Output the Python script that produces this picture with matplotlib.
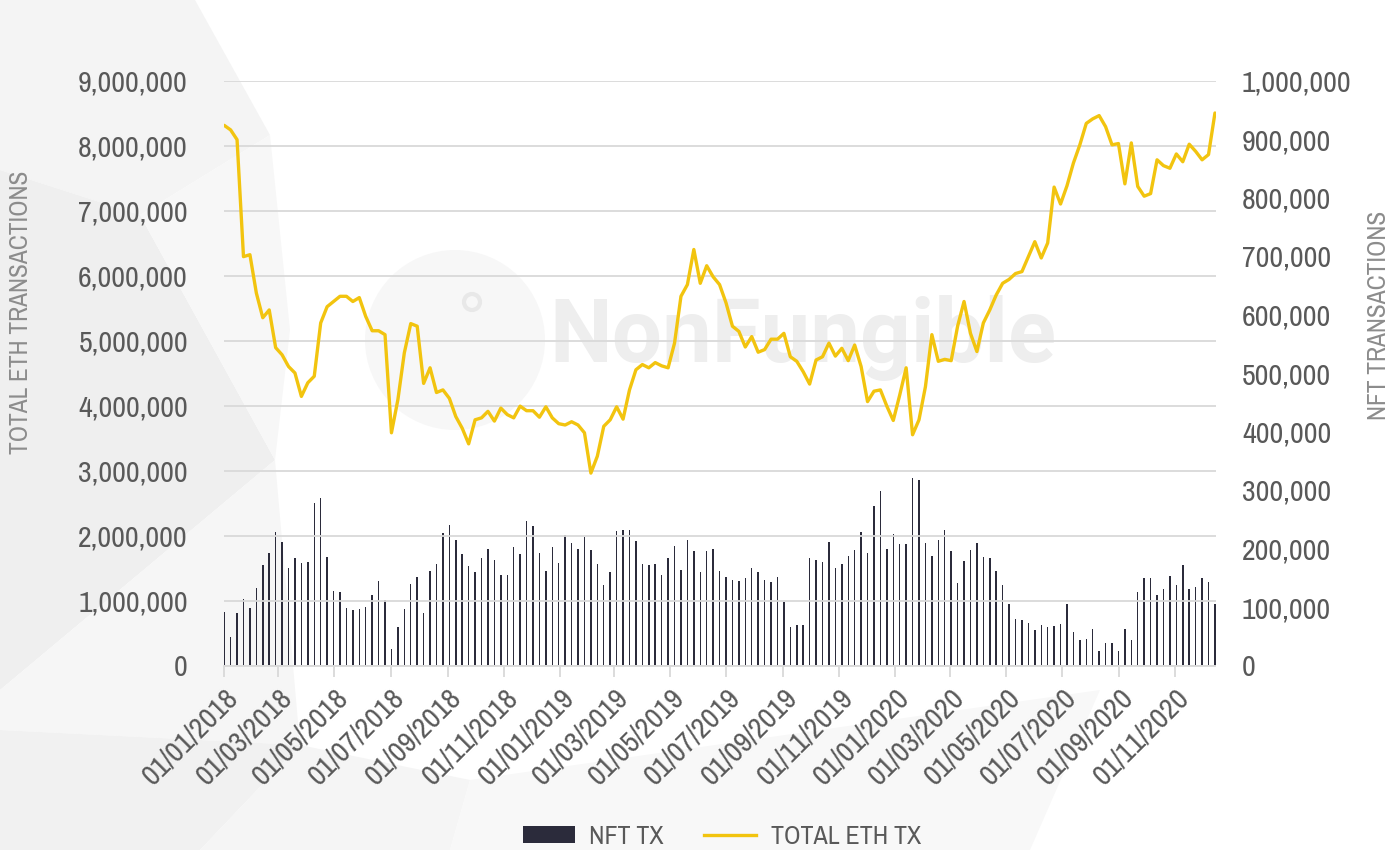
import numpy as np
import pandas as pd
import matplotlib
matplotlib.use("Agg")
import matplotlib.pyplot as plt
import matplotlib.dates as mdates
from matplotlib import font_manager as fm
from matplotlib.patches import Polygon, Patch, Ellipse
from matplotlib.lines import Line2D
from matplotlib.ticker import FuncFormatter

# ---------------- data ----------------
first_week = "2018-01-01"
n_weeks = 155

# NFT transactions per week (thousands)
nft_tx_k = [
    92, 48, 89, 113, 99, 132, 172, 192, 228, 211, 167, 183, 176, 177, 278, 287,
    186, 128, 126, 98, 95, 96, 100, 120, 145, 112, 28, 66, 97, 140, 151, 90,
    162, 174, 227, 241, 214, 190, 170, 160, 183, 199, 181, 155, 155, 203, 190, 247,
    239, 193, 161, 202, 176, 223, 210, 200, 219, 197, 174, 137, 160, 230, 232, 232,
    213, 174, 172, 174, 155, 183, 205, 163, 215, 196, 159, 196, 199, 162, 152, 147,
    144, 149, 167, 159, 147, 143, 151, 108, 65, 70, 70, 183, 181, 177, 211, 166,
    174, 188, 198, 229, 192, 273, 298, 199, 225, 208, 208, 320, 317, 209, 188, 215,
    231, 196, 141, 179, 198, 209, 185, 184, 162, 138, 105, 80, 78, 72, 60, 69,
    66, 67, 71, 105, 57, 43, 46, 63, 25, 38, 39, 24, 62, 43, 125, 150,
    149, 120, 130, 153, 138, 172, 130, 134, 149, 143, 105,
]

# Total ETH transactions per week (millions)
eth_tx_m = [
    8.31, 8.24, 8.09, 6.29, 6.32, 5.73, 5.35, 5.47, 4.89, 4.78, 4.60, 4.50, 4.14, 4.35, 4.45, 5.27,
    5.52, 5.60, 5.68, 5.68, 5.60, 5.66, 5.37, 5.15, 5.15, 5.09, 3.58, 4.09, 4.81, 5.26, 5.22, 4.34,
    4.58, 4.20, 4.24, 4.11, 3.83, 3.65, 3.41, 3.78, 3.81, 3.91, 3.76, 3.96, 3.86, 3.81, 3.99, 3.92,
    3.92, 3.82, 3.98, 3.81, 3.72, 3.70, 3.75, 3.70, 3.58, 2.96, 3.22, 3.68, 3.78, 3.98, 3.79, 4.24,
    4.55, 4.63, 4.58, 4.66, 4.61, 4.58, 4.96, 5.68, 5.86, 6.40, 5.88, 6.15, 5.98, 5.86, 5.58, 5.22,
    5.14, 4.90, 5.06, 4.82, 4.86, 5.02, 5.02, 5.11, 4.75, 4.68, 4.52, 4.33, 4.70, 4.75, 4.96, 4.76,
    4.88, 4.69, 4.93, 4.60, 4.06, 4.22, 4.24, 3.99, 3.77, 4.16, 4.58, 3.55, 3.78, 4.29, 5.09, 4.68,
    4.71, 4.69, 5.22, 5.60, 5.11, 4.83, 5.27, 5.47, 5.70, 5.88, 5.94, 6.03, 6.06, 6.29, 6.52, 6.27,
    6.50, 7.36, 7.10, 7.38, 7.73, 8.01, 8.34, 8.41, 8.46, 8.29, 8.01, 8.03, 7.41, 8.04, 7.37, 7.22,
    7.26, 7.78, 7.69, 7.65, 7.87, 7.75, 8.02, 7.91, 7.78, 7.86, 8.50,
]

left_ticks = [0, 1e6, 2e6, 3e6, 4e6, 5e6, 6e6, 7e6, 8e6, 9e6]
right_ticks = [0, 1e5, 2e5, 3e5, 4e5, 5e5, 6e5, 7e5, 8e5, 9e5, 1e6]
legend_labels = ["NFT TX", "TOTAL ETH TX"]
left_title = "TOTAL ETH TRANSACTIONS"
right_title = "NFT TRANSACTIONS"
watermark = "NonFungible"

# ---------------- fonts ----------------
installed = sorted({f.name for f in fm.fontManager.ttflist})
narrow_names = [n for n in installed if ("Narrow" in n or "Condensed" in n)]
if narrow_names:
    NARROW = [narrow_names[0], "DejaVu Sans"]
    TICK_FS, TITLE_FS, LEG_FS = 21.5, 18.3, 18.7
else:
    NARROW = ["Liberation Sans", "DejaVu Sans"]
    TICK_FS, TITLE_FS, LEG_FS = 18.3, 15.0, 15.3

BAR_COLOR = "#2b2b3b"
LINE_COLOR = "#F2C40F"
TICK_COLOR = "#595959"
TITLE_COLOR = "#8c8c8c"
GRID_COLOR = "#d9d9d9"

W, H = 1399, 850
fig = plt.figure(figsize=(W / 100, H / 100), dpi=100)
fig.patch.set_facecolor("white")

def px(x, y):
    return (x / W, 1 - y / H)

# background low-poly shapes
polys = [
    ([(0, 0), (195, 0), (270, 135), (140, 215), (0, 170)], "#f4f4f4"),
    ([(0, 170), (140, 215), (275, 460), (0, 690)], "#efefef"),
    ([(140, 215), (270, 135), (290, 330), (275, 460)], "#f7f7f7"),
    ([(0, 690), (275, 460), (300, 745), (0, 730)], "#f6f6f6"),
    ([(0, 730), (300, 745), (200, 850), (0, 850)], "#f1f1f1"),
    ([(300, 745), (470, 780), (450, 850), (200, 850)], "#f5f5f5"),
    ([(470, 780), (1100, 690), (1030, 850), (450, 850)], "#f8f8f8"),
]
for pts, col in polys:
    fig.patches.append(Polygon([px(*p) for p in pts], closed=True, transform=fig.transFigure,
                               facecolor=col, edgecolor="none", zorder=-5))

# watermark logo + text
fig.patches.append(Ellipse(px(455, 340), 180 / W, 180 / H, transform=fig.transFigure,
                           facecolor="#f7f7f7", edgecolor="none", zorder=-4))
fig.patches.append(Ellipse(px(472, 302), 16 / W, 16 / H, transform=fig.transFigure,
                           facecolor="none", edgecolor="#e8e8e8", lw=3, zorder=-4))
fig.text(*px(803, 338), watermark, fontsize=64, fontweight="bold", color="#eeeeee",
         ha="center", va="center", family=["Roboto", "DejaVu Sans"], zorder=-3)

# axes
left, right, top, bottom = 224, 1215.5, 80.5, 665.5
ax2 = fig.add_axes([left / W, 1 - bottom / H, (right - left) / W, (bottom - top) / H])
ax = ax2.twinx()
ax.yaxis.set_ticks_position("left")
ax.yaxis.set_label_position("left")
ax2.yaxis.set_ticks_position("right")
ax2.yaxis.set_label_position("right")

dates = pd.date_range(first_week, periods=n_weeks, freq="7D")
nft = np.array(nft_tx_k) * 1000
eth = np.array(eth_tx_m) * 1e6

ax2.bar(dates, nft, width=1.6, color=BAR_COLOR, linewidth=0, zorder=2)
ax.plot(dates, eth, color=LINE_COLOR, lw=2.4, solid_joinstyle="round", solid_capstyle="round",
        zorder=5)

for a in (ax, ax2):
    a.set_facecolor("none")
    for s in a.spines.values():
        s.set_visible(False)

ax2.set_zorder(1)
ax.set_zorder(2)

x0 = pd.Timestamp(first_week) - pd.Timedelta(days=0.2)
x1 = pd.Timestamp(first_week) + pd.Timedelta(days=7 * (n_weeks - 1) + 0.6)
ax.set_xlim(x0, x1)
ax2.set_xlim(x0, x1)

ax.set_ylim(0, 9e6)
ax2.set_ylim(0, 1e6)
ax.set_yticks(left_ticks)
ax2.set_yticks(right_ticks)
fmt = FuncFormatter(lambda v, p: f"{int(round(v)):,}")
ax.yaxis.set_major_formatter(fmt)
ax2.yaxis.set_major_formatter(fmt)

ax2.yaxis.grid(False)
ax.yaxis.grid(True, color=GRID_COLOR, lw=1.3)

ax.tick_params(axis="y", length=0, pad=26, labelsize=TICK_FS, labelcolor=TICK_COLOR)
ax2.tick_params(axis="y", length=0, pad=19, labelsize=TICK_FS, labelcolor=TICK_COLOR)
for lab in ax.get_yticklabels() + ax2.get_yticklabels():
    lab.set_family(NARROW)

# x axis (bottom, on ax2)
ax2.xaxis.set_major_locator(mdates.MonthLocator(bymonth=[1, 3, 5, 7, 9, 11]))
ax2.xaxis.set_major_formatter(mdates.DateFormatter("%d/%m/%Y"))
ax.xaxis.set_visible(False)
ax2.spines["bottom"].set_visible(True)
ax2.spines["bottom"].set_color(GRID_COLOR)
ax2.spines["bottom"].set_linewidth(1.3)
ax2.tick_params(axis="x", direction="out", length=8, width=1.3, color=GRID_COLOR,
                labelsize=TICK_FS, labelcolor=TICK_COLOR, pad=5)
for lab in ax2.get_xticklabels():
    lab.set_family(NARROW)
    lab.set_rotation(45)
    lab.set_ha("right")
    lab.set_va("top")
    lab.set_rotation_mode("anchor")

# axis titles
fig.text(*px(21, 312), left_title, rotation=90, ha="center", va="center", fontsize=TITLE_FS,
         color=TITLE_COLOR, family=NARROW)
fig.text(*px(1378, 315), right_title, rotation=90, ha="center", va="center", fontsize=TITLE_FS,
         color=TITLE_COLOR, family=NARROW)

# legend
handles = [Patch(facecolor=BAR_COLOR, edgecolor="none"),
           Line2D([0], [0], color=LINE_COLOR, lw=2.4)]
leg = fig.legend(handles, legend_labels, loc="center", bbox_to_anchor=px(722, 836), ncol=2,
                 frameon=False, handlelength=2.0, handleheight=0.6, columnspacing=1.55,
                 handletextpad=0.55, prop={"family": NARROW, "size": LEG_FS})
for t in leg.get_texts():
    t.set_color(TICK_COLOR)

fig.savefig("out.png", dpi=100, facecolor="white")
